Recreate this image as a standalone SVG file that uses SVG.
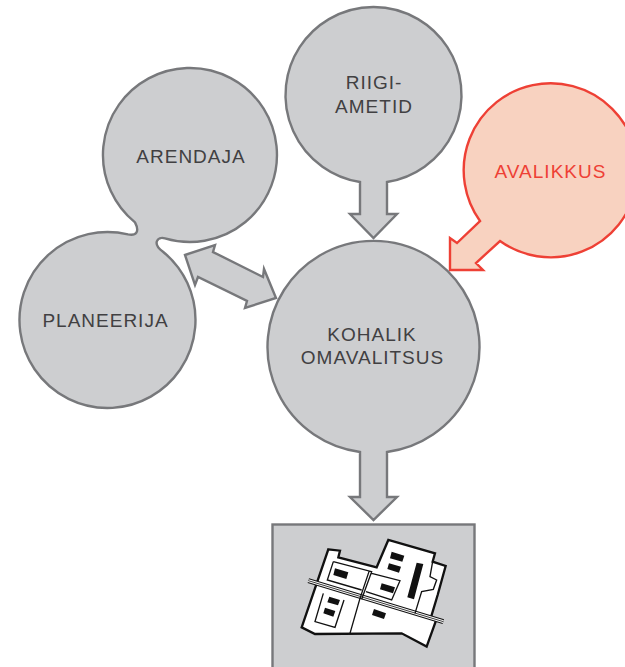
<svg xmlns="http://www.w3.org/2000/svg" width="625" height="667" viewBox="0 0 625 667">
<style>
.g{fill:#cdced0;stroke:#77787b;stroke-width:2.4;stroke-linejoin:miter}
.r{fill:#f8d2c0;stroke:#ee4035;stroke-width:2.4;stroke-linejoin:miter}
text{font-family:"Liberation Sans",Arial,sans-serif;font-size:19px;fill:#414042;text-anchor:middle;letter-spacing:1px}
.w{fill:#fff;stroke:#111;stroke-width:7;stroke-linejoin:miter}
.t{fill:none;stroke:#111;stroke-width:4}
.k{fill:#111;stroke:none}
</style>
<g id="connectors">
<path class="g" d="M185,255 L215,245 L213,252 L263,277 L264,269 L276,298 L245,308 L247,301 L198,277 L195,285 Z"/>
</g>
<g id="node-riigi">
<path class="g" d="M360,182 A88,88 0 1 1 387,182 V214 H397 L373.500,238 L350,214 H360 Z"/>
<text x="374" y="89">RIIGI-</text>
<text x="374" y="113">AMETID</text>
</g>
<g id="node-avalikkus">
<path class="r" d="M480,221 A87,87 0 1 1 500,241 L476,263 L483,270 H450 V238 L457,243 Z"/>
<text x="550.500" y="178" style="fill:#ee4035">AVALIKKUS</text>
</g>
<g id="node-arendaja-planeerija">
<path class="g" d="M135,222.400 A87,87 0 1 1 165,238.300 C157,236 152,244 163,251.700 A88,88 0 1 1 128,234.400 C136,236 140,232 135,222.400 Z"/>
<text x="191" y="163">ARENDAJA</text>
<text x="105.500" y="327">PLANEERIJA</text>
</g>
<g id="node-kohalik">
<path class="g" d="M360,452 A106,106 0 1 1 387,452 V497 H397 L373.500,520 L350,497 H360 Z"/>
<text x="372" y="341">KOHALIK</text>
<text x="372.500" y="364">OMAVALITSUS</text>
</g>
<g id="node-plan">
<rect class="g" x="272.500" y="524.500" width="202" height="150"/>
<g transform="translate(270 510) scale(.3333)">
<path class="w" d="M175,118 L210,122 L205,142 L320,172 L355,90 L495,130 L488,155 L527,168 L503,255 L482,325 L498,332 L470,410 L395,370 L135,372 L95,352 Z"/>
<path d="M115,212 L520,335" stroke="#111" stroke-width="15" fill="none"/>
<path d="M115,212 L520,335" stroke="#fff" stroke-width="9" fill="none"/>
<path d="M115,212 L520,335" stroke="#111" stroke-width="2.500" fill="none"/>
<path class="t" d="M190,155 L305,185 L275,268 M190,155 L172,210 L275,240 M297,185 L270,265 L240,370 M305,190 L390,212 L365,270 L288,245 M160,250 L135,335 L195,352 L222,270 M488,155 L480,200 L500,210 L490,238 L455,245 L435,310"/>
<path class="k" d="M195,175 L235,187 L229,207 L190,195 Z M365,125 L403,137 L397,155 L360,145 Z M357,160 L393,170 L387,188 L352,177 Z M335,220 L375,232 L369,250 L330,238 Z M178,260 L210,270 L204,286 L172,277 Z M165,293 L196,303 L190,320 L160,310 Z M312,297 L348,310 L342,327 L306,315 Z M440,158 L460,162 L432,268 L412,262 Z"/>
</g>
</g>
</svg>
